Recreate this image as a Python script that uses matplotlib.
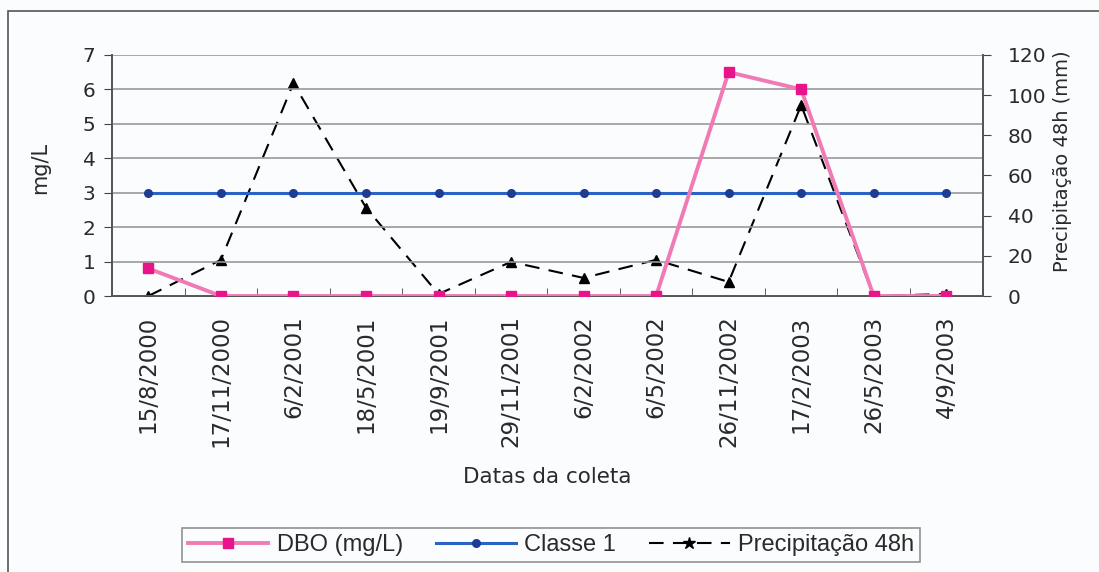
import numpy as np
import matplotlib.pyplot as plt
from matplotlib.lines import Line2D
from matplotlib.patches import Rectangle

plt.rcParams['font.family'] = ['DejaVu Sans']

# dados
datas = ['15/8/2000', '17/11/2000', '6/2/2001', '18/5/2001', '19/9/2001', '29/11/2001',
         '6/2/2002', '6/5/2002', '26/11/2002', '17/2/2003', '26/5/2003', '4/9/2003']
dbo = [0.8, 0, 0, 0, 0, 0, 0, 0, 6.5, 6.0, 0, 0]
classe1 = [3] * 12
precip = [0, 18, 106, 44, 1, 17, 9, 18, 7, 95, 0, 1]

rosa = '#f07ab4'
rosa_m = '#e8158a'
azul = '#2a63c4'
azul_m = '#1d3c92'
texto = '#2a2a2a'

fig = plt.figure(figsize=(10.99, 5.72), dpi=100, facecolor='#fbfcfd')
fig.patches.append(Rectangle((8 / 1099, -0.1), 1.2, 1 - 11 / 572 + 0.1, transform=fig.transFigure,
                             fill=False, edgecolor='#555555', lw=1.2))

ax = fig.add_axes([0.102, 0.4825, 0.792, 0.4215])
x = np.arange(len(datas))

ax2 = ax.twinx()
ax.set_zorder(ax2.get_zorder() + 1)
ax.patch.set_visible(False)
ax2.set_facecolor('#fbfcfd')

ax2.plot(x, precip, color='black', lw=1.5, dashes=(7, 4.5), marker='^', ms=7.5, zorder=3)
ax.plot(x, classe1, color=azul, lw=2.2, marker='o', ms=5.5, mfc=azul_m, mec=azul_m, zorder=3)
ax.plot(x, dbo, color=rosa, lw=2.8, marker='s', ms=6.5, mfc=rosa_m, mec=rosa_m, zorder=4)

ax.set_ylim(0, 7)
ax.set_yticks(range(0, 8))
ax2.set_ylim(0, 120)
ax2.set_yticks(range(0, 121, 20))
ax.set_xlim(-0.5, len(datas) - 0.5)
ax.set_xticks(x)
ax.set_xticklabels(datas, rotation=90)
ax.set_xticks(np.arange(-0.5, len(datas)), minor=True)
ax.tick_params(axis='x', which='major', length=0, pad=14, labelsize=16.5, colors=texto)
ax.tick_params(axis='x', which='minor', length=6, direction='in', color='#444444')
ax.tick_params(axis='y', length=6, pad=6, labelsize=14.5, colors=texto, color='#444444')
ax2.tick_params(axis='y', length=6, pad=12, labelsize=14.5, colors=texto, color='#444444')

ax.grid(axis='y', color='#999999', lw=1.2)
for a in (ax, ax2):
    a.spines['top'].set_visible(False)
    for s in ('left', 'right', 'bottom'):
        a.spines[s].set_color('#555555')
        a.spines[s].set_linewidth(1.3)

ax.set_ylabel('mg/L', fontsize=15, color=texto, va='center')
ax.yaxis.set_label_coords(-0.083, 0.53)
ax2.set_ylabel('Precipitação 48h (mm)', fontsize=14, color=texto, va='center')
ax2.yaxis.set_label_coords(1.092, 0.56)
ax.set_xlabel('Datas da coleta', fontsize=15.5, color=texto, va='center')
ax.xaxis.set_label_coords(0.5, -0.751)

handles = [
    Line2D([], [], color=rosa, lw=2.8, marker='s', ms=6.5, mfc=rosa_m, mec=rosa_m),
    Line2D([], [], color=azul, lw=2.2, marker='o', ms=5.5, mfc=azul_m, mec=azul_m),
    Line2D([], [], color='black', lw=1.5, dashes=(7, 4.5), marker='*', ms=9),
]
leg = fig.legend(handles, ['DBO (mg/L)', 'Classe 1', 'Precipitação 48h'], ncol=3,
                 loc='center', bbox_to_anchor=(551 / 1099, 1 - 545 / 572),
                 prop={'family': 'Liberation Sans', 'size': 17},
                 fancybox=False, edgecolor='#777777', handlelength=3.4, columnspacing=1.4,
                 borderpad=0.25, handletextpad=0.35, borderaxespad=0, labelcolor=texto)
leg.get_frame().set_linewidth(1.2)
leg.get_frame().set_facecolor('#fbfcfd')

fig.savefig('out.png', dpi=100, facecolor=fig.get_facecolor())
